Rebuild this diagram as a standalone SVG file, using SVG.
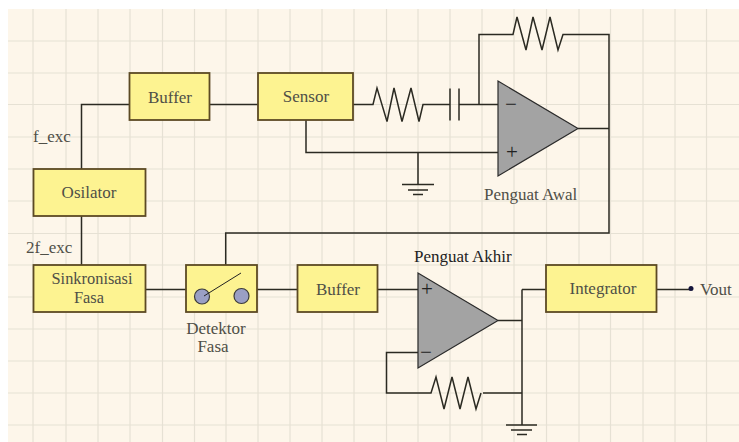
<svg xmlns="http://www.w3.org/2000/svg" width="739" height="442" viewBox="0 0 739 442">
<style>
.grid{fill:none;stroke:#e6e1d4;stroke-width:1.2}
.w{fill:none;stroke:#2b2a22;stroke-width:1.5}
.box{fill:#fdf391;stroke:#5c4a24;stroke-width:1.8}
.amp{fill:#a3a3a3;stroke:#2b2b2b;stroke-width:1.2}
.sw{fill:#9a9fc4;stroke:#3c3c3c;stroke-width:1.2}
text{font-family:"Liberation Serif","Times New Roman",serif;font-size:17px;fill:#4f4f47}
.m{text-anchor:middle}
.d{fill:#222}
.s{fill:#222;font-size:21px}
.t{font-size:16.4px}
.l{fill:none;stroke:#222;stroke-width:1}
</style>
<rect width="739" height="442" fill="#fff"/>
<rect x="8" y="9" width="731" height="433" fill="#fdf6ea"/>
<path class="grid" d="M33 9V442M66 9V442M98 9V442M130 9V442M162.500 9V442M194.500 9V442M226 9V442M258 9V442M290 9V442M322 9V442M354 9V442M386.500 9V442M418 9V442M450 9V442M482 9V442M514 9V442M546.500 9V442M579 9V442M610.500 9V442M643 9V442M675 9V442M706.500 9V442M8 41H739M8 73H739M8 104.500H739M8 137H739M8 169H739M8 201H739M8 233.500H739M8 265H739M8 297H739M8 329H739M8 361H739M8 393H739M8 425H739"/>
<g id="connectors">
<path class="w" d="M81.500 169V104.500H130M209 104.500H258M353 104.500H373L377 88L387 121.500L394 88L402 121.500L411 88L419 121.500L423 104.500H450M459 104.500H498"/>
<path class="w" d="M450 88.500V120.500M459 88.500V120.500"/>
<path class="w" d="M479 104.500V34.500H513L517 17L526 50L533 17L542 50L550 17L558 50L563 34.500H609V233H225.700V265"/>
<path class="w" d="M578 128.500H609"/>
<path class="w" d="M306 120V152.500H498M418 152.500V184.500M402 184.500H434M408 190H428M413 194.500H423"/>
<path class="w" d="M81.500 216V265M145 289.500H186M257 289.500H297M377 289.500H418"/>
<path class="w" d="M498 320.500H522M522 289.500V425M522 289.500H546M506 425H537M511 430H532M517 434.500H527"/>
<path class="w" d="M656 289.500H691"/>
<path class="w" d="M418 352.500H386.500V393H431L436 377L444 409L452 377L460 409L468 377L476 409L481 393M483 393H522"/>
</g>
<g id="buffer1"><rect class="box" x="129.500" y="73" width="80" height="47"/><text class="m" x="170" y="103">Buffer</text></g>
<g id="sensor"><rect class="box" x="258" y="73" width="95" height="47"/><text class="m" x="306" y="102">Sensor</text></g>
<g id="osilator"><rect class="box" x="33.500" y="169" width="112" height="47"/><text class="m" x="89" y="198">Osilator</text></g>
<g id="f-exc"><text x="33" y="142">f_exc</text></g>
<g id="2f-exc"><text x="26" y="253">2f_exc</text></g>
<g id="sinkronisasi"><rect class="box" x="33.500" y="265" width="112" height="47"/><text class="m t" x="92" y="284">Sinkronisasi</text><text class="m t" x="89" y="302.500">Fasa</text></g>
<g id="detektor"><rect class="box" x="186" y="265" width="71" height="47"/><circle class="sw" cx="202" cy="296.500" r="7.500"/><circle class="sw" cx="241.500" cy="296" r="7.500"/><path class="l" d="M204 296L241 273"/><text class="m" x="216" y="334">Detektor</text><text class="m" x="213" y="352">Fasa</text></g>
<g id="buffer2"><rect class="box" x="297.500" y="265" width="80" height="47"/><text class="m" x="338" y="295">Buffer</text></g>
<g id="penguat-awal"><path class="amp" d="M498 81V176L578 128.500Z"/><text class="m s" x="511" y="111">−</text><text class="m s" x="512" y="159">+</text><text x="484" y="200">Penguat Awal</text></g>
<g id="penguat-akhir"><path class="amp" d="M418 273V368L498 320.500Z"/><text class="m s" x="427" y="296">+</text><text class="m s" x="426" y="359">−</text><text class="d" x="414" y="262">Penguat Akhir</text></g>
<g id="integrator"><rect class="box" x="546" y="265" width="110.500" height="47"/><text class="m" x="603" y="294">Integrator</text></g>
<g id="vout"><circle cx="691" cy="288.500" r="2.500" fill="#14143c"/><text x="700" y="295">Vout</text></g>
</svg>
